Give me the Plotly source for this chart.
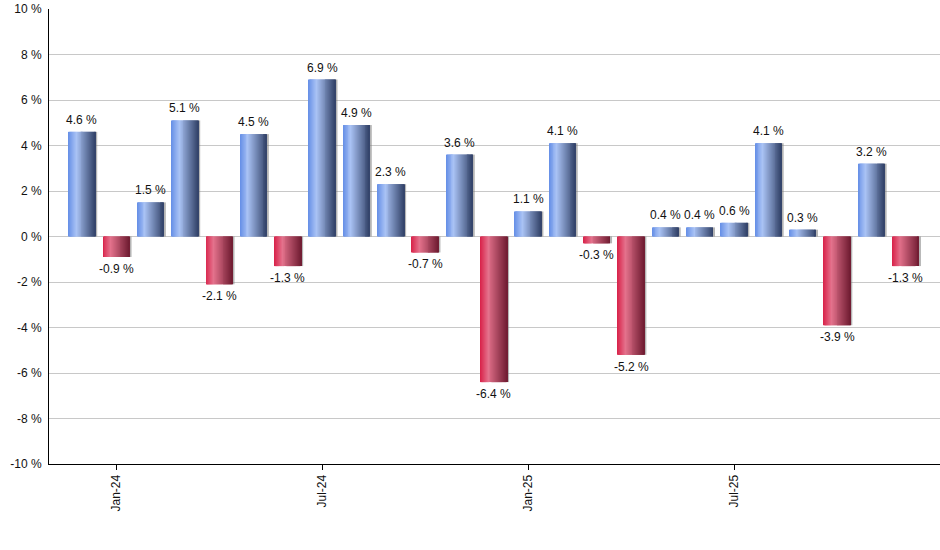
import plotly.graph_objects as go

# --- Data ---
months = ["Dec-23", "Jan-24", "Feb-24", "Mar-24", "Apr-24", "May-24", "Jun-24",
          "Jul-24", "Aug-24", "Sep-24", "Oct-24", "Nov-24", "Dec-24",
          "Jan-25", "Feb-25", "Mar-25", "Apr-25", "May-25", "Jun-25",
          "Jul-25", "Aug-25", "Sep-25", "Oct-25", "Nov-25", "Dec-25"]
returns = [4.6, -0.9, 1.5, 5.1, -2.1, 4.5, -1.3, 6.9, 4.9, 2.3, -0.7, 3.6, -6.4,
           1.1, 4.1, -0.3, -5.2, 0.4, 0.4, 0.6, 4.1, 0.3, -3.9, 3.2, -1.3]
tick_months = ["Jan-24", "Jul-24", "Jan-25", "Jul-25"]
y_ticks = [-10, -8, -6, -4, -2, 0, 2, 4, 6, 8, 10]

# --- Gradient helpers (bars are drawn as thin vertical strips) ---
BLUE_STOPS = [(0.0, (100, 142, 230)), (0.3, (170, 195, 245)), (1.0, (50, 66, 104))]
RED_STOPS = [(0.0, (216, 32, 72)), (0.3, (228, 114, 140)), (1.0, (112, 28, 50))]


def grad(stops, t):
    for (p0, c0), (p1, c1) in zip(stops[:-1], stops[1:]):
        if p0 <= t <= p1:
            f = (t - p0) / (p1 - p0)
            return "rgb(%d,%d,%d)" % tuple(round(a + (b - a) * f) for a, b in zip(c0, c1))
    return "rgb(%d,%d,%d)" % stops[-1][1]


BAR_W = 0.77
N_STRIPS = 28
strip_w = BAR_W / N_STRIPS

fig = go.Figure()

# thin gray shadow on the right edge of each bar
fig.add_trace(go.Bar(
    x=months, y=returns,
    offset=BAR_W / 2 - 0.01, width=0.07,
    marker=dict(color="rgba(120,120,120,0.55)", line=dict(width=0)),
    hoverinfo="skip", showlegend=False,
))

for i in range(N_STRIPS):
    t = (i + 0.5) / N_STRIPS
    colors = [grad(BLUE_STOPS, t) if v >= 0 else grad(RED_STOPS, t) for v in returns]
    fig.add_trace(go.Bar(
        x=months, y=returns,
        offset=-BAR_W / 2 + i * strip_w, width=strip_w * 2 if i < N_STRIPS - 1 else strip_w,
        marker=dict(color=colors, line=dict(width=0)),
        hovertemplate="%{x}: %{y:.1f} %<extra></extra>", showlegend=False,
    ))

# value labels
for m, v in zip(months, returns):
    fig.add_annotation(
        x=m, y=v, xref="x", yref="y",
        text="%.1f %%" % v,
        showarrow=False,
        yanchor="bottom" if v >= 0 else "top",
        yshift=3 if v >= 0 else -3,
        font=dict(family="Liberation Sans, Arial", size=12, color="#111111"),
    )

# --- Layout ---
fig.update_layout(
    width=940, height=550,
    barmode="overlay",
    paper_bgcolor="white",
    plot_bgcolor="white",
    font=dict(family="Liberation Sans, Arial", size=12, color="#111111"),
    margin=dict(l=49, r=0, t=9, b=86),
    showlegend=False,
    xaxis=dict(
        type="category",
        range=[-0.96, 25.0],
        tickmode="array",
        tickvals=tick_months,
        ticktext=tick_months,
        tickangle=-90,
        ticks="outside", ticklen=5, tickcolor="black",
        showgrid=False,
        showline=True, linecolor="black", linewidth=1,
        fixedrange=True,
    ),
    yaxis=dict(
        range=[-10, 10],
        tickmode="array",
        tickvals=y_ticks,
        ticktext=["%d %%" % t for t in y_ticks],
        showgrid=True, gridcolor="#c8c8c8", gridwidth=1,
        zeroline=True, zerolinecolor="#c8c8c8", zerolinewidth=1,
        showline=True, linecolor="black", linewidth=1,
        ticks="", ticklabelstandoff=4,
        fixedrange=True,
    ),
)

# page has a default body margin; remove it so the chart sits at the window corner
fig.write_html("out.html", config={"displayModeBar": False},
               post_script="document.body.style.margin='0';")
